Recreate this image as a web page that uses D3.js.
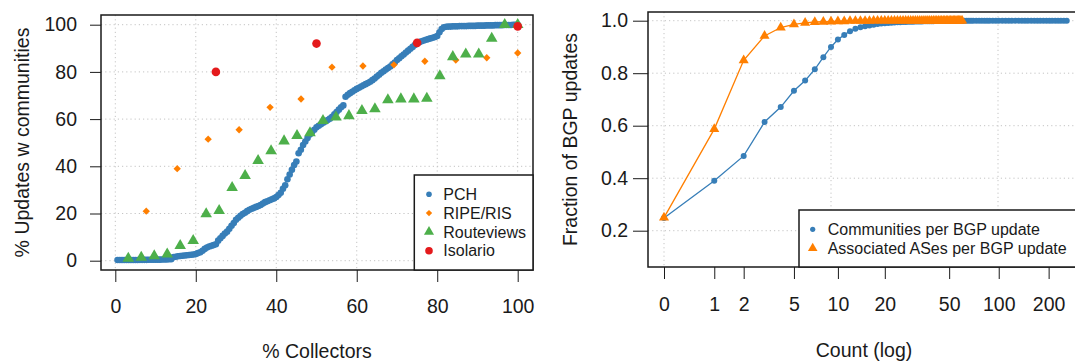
<!DOCTYPE html>
<html>
<head>
<meta charset="utf-8">
<script src="https://cdn.jsdelivr.net/npm/d3@7"></script>
<style>
  body { margin: 0; background: #fff; }
  svg { display: block; }
  text { font-family: "Liberation Sans", Arial, Helvetica, sans-serif; }
</style>
</head>
<body>
<svg id="chart" width="1075" height="361"></svg>
<script>
// ---- left panel: % updates with communities per collector (sorted) ----
const pctTicks = [0, 20, 40, 60, 80, 100];
const pchValues = [
  0.3, 0.3, 0.3, 0.3, 0.3, 0.3, 0.3, 0.3, 0.3, 0.3, 0.35, 0.35, 0.35, 0.35, 0.4, 0.4, 0.4, 0.4, 0.45, 0.45, 0.5, 0.5, 0.5, 0.6, 0.6,
  1.5, 1.7, 1.9, 2.0, 2.1, 2.2, 2.3, 2.4, 2.5, 2.6, 2.8,
  3.2, 3.6, 4.2, 5.0, 5.6, 6.0, 6.3, 6.6, 7.0,
  8.5, 9.5, 10.5, 11.5, 12.3, 13.5, 14.8, 16.0, 17.3,
  18.2, 19.0, 19.8, 20.3, 21.0, 21.6, 22.0, 22.4, 22.8,
  23.2, 23.6, 24.2, 24.8, 25.2, 25.6, 26.0, 26.4,
  27.0, 27.8, 28.8, 30.5, 32.0, 34.5, 36.5, 38.5, 40.5, 42.0,
  45.5, 47.0, 49.0, 50.5, 52.0, 53.5, 54.5, 55.5, 56.5,
  57.2, 57.8, 58.5, 59.0, 59.6, 60.2, 61.0, 62.0, 63.0, 64.0, 65.0, 65.8,
  69.5, 70.3, 71.0, 71.6, 72.2, 72.8, 73.3, 73.8, 74.3, 74.8,
  75.3, 75.8, 76.5, 77.2, 78.0, 78.8, 79.6, 80.3, 81.0, 81.6,
  82.3, 83.2, 84.0, 85.0, 85.8, 86.6, 87.4, 88.2, 89.0, 89.8,
  90.6, 91.4, 92.2, 92.6, 93.0, 93.3, 93.6, 93.9, 94.2, 94.5, 94.8, 95.2,
  96.8, 98.2, 98.9, 99.1,
  99.2, 99.2, 99.3, 99.3, 99.3, 99.4, 99.4, 99.4, 99.4, 99.5, 99.5, 99.5, 99.5, 99.6, 99.6, 99.6,
  99.6, 99.7, 99.7, 99.7, 99.7, 99.8, 99.8, 99.8, 99.8, 99.9, 99.9, 99.9, 99.9, 100, 100, 100
];
const ripeValues = [21, 39, 51.5, 55.5, 65, 68.5, 82, 82.5, 83, 84.5, 85, 86, 88];
const routeviewsValues = [
  1.0, 1.4, 2.0, 2.8, 6.4, 8.5, 19.8, 21.2, 30.9, 36.0, 42.4, 46.5, 50.7, 53.0, 54.1, 59.3,
  60.8, 61.4, 63.6, 64.3, 68.1, 68.5, 68.5, 68.8, 78.3, 86.4, 87.5, 87.5, 94.2, 100, 100
];
const isolarioValues = [80, 92, 92.3, 99.3];
const leftSeries = ['PCH', 'RIPE/RIS', 'Routeviews', 'Isolario'];

// ---- right panel: CDF of counts per BGP update ----
const countTicks = [0, 1, 2, 5, 10, 20, 50, 100, 200];
const fracTicks = [0.2, 0.4, 0.6, 0.8, 1.0];
const commCounts = [
  0, 1, 2, 3, 4, 5, 6, 7, 8, 9, 10, 11, 12, 13, 14, 15, 16, 17, 18, 19, 20,
  21, 22, 23, 24, 25, 26, 27, 28, 29, 30, 31, 32, 33, 34, 35, 36, 37, 38, 39, 40,
  41, 42, 43, 44, 45, 46, 47, 48, 49, 50, 52, 54, 56, 58, 60, 62, 64, 66, 68, 70,
  73, 76, 79, 82, 85, 88, 92, 96, 100, 105, 110, 115, 120, 126, 132, 138, 144,
  150, 157, 164, 171, 178, 186, 194, 202, 210, 219, 228, 237, 247, 257
];
const commFrac = [
  0.248, 0.390, 0.485, 0.614, 0.671, 0.733, 0.772, 0.815, 0.861, 0.900, 0.928,
  0.946, 0.960, 0.969, 0.975, 0.979, 0.982, 0.985, 0.987, 0.989, 0.990,
  0.991, 0.992, 0.993, 0.994, 0.994, 0.995, 0.995, 0.996, 0.996, 0.996,
  0.997, 0.997, 0.997, 0.997, 0.998, 0.998, 0.998, 0.998, 0.998, 0.998,
  0.999, 0.999, 0.999, 0.999, 0.999, 0.999, 0.999, 0.999, 0.999, 0.999,
  0.999, 0.999, 0.999, 0.999, 0.999, 1, 1, 1, 1, 1,
  1, 1, 1, 1, 1, 1, 1, 1, 1, 1, 1, 1, 1, 1, 1, 1, 1,
  1, 1, 1, 1, 1, 1, 1, 1, 1, 1, 1, 1, 1, 1
];
const asCounts = [
  0, 1, 2, 3, 4, 5, 6, 7, 8, 9, 10, 11, 12, 13, 14, 15, 16, 17, 18, 19, 20,
  21, 22, 23, 24, 25, 26, 27, 28, 29, 30, 31, 32, 33, 34, 35, 36, 37, 38, 39, 40,
  41, 42, 43, 44, 45, 46, 47, 48, 49, 50, 51, 52, 53, 54, 55, 56, 57, 58, 59, 60
];
const asFrac = [
  0.250, 0.587, 0.849, 0.942, 0.974, 0.986, 0.992, 0.995, 0.996, 0.997, 0.998,
  0.998, 0.999, 0.999, 0.999, 0.999, 0.999, 1, 1, 1, 1,
  1, 1, 1, 1, 1, 1, 1, 1, 1, 1, 1, 1, 1, 1, 1, 1, 1, 1, 1, 1,
  1, 1, 1, 1, 1, 1, 1, 1, 1, 1, 1, 1, 1, 1, 1, 1, 1, 1, 1, 1
];
const rightSeries = ['Communities per BGP update', 'Associated ASes per BGP update'];

const BLUE = '#377eb8', ORANGE = '#ff7f00', GREEN = '#4daf4a', RED = '#e41a1c';
const INK = '#1a1a1a', GRID = '#c4c4c4';

const svg = d3.select('#chart');

function styleAxis(g) {
  g.select('.domain').remove();
  g.selectAll('.tick line').attr('stroke', INK).attr('stroke-width', 1);
  g.selectAll('.tick text').attr('fill', INK).attr('font-size', 19.5)
    .attr('font-family', '"Liberation Sans", Arial, sans-serif');
}

function frame(box) {
  svg.append('rect')
    .attr('x', box.x0).attr('y', box.y0)
    .attr('width', box.x1 - box.x0).attr('height', box.y1 - box.y0)
    .attr('fill', 'none').attr('stroke', INK).attr('stroke-width', 1.5);
}

function grid(box, xs, ys, x, y) {
  const g = svg.append('g').attr('stroke', GRID).attr('stroke-width', 1)
    .attr('stroke-dasharray', '1.2,3');
  g.selectAll('.vx').data(xs).join('line')
    .attr('x1', d => x(d)).attr('x2', d => x(d))
    .attr('y1', box.y0).attr('y2', box.y1);
  g.selectAll('.hy').data(ys).join('line')
    .attr('x1', box.x0).attr('x2', box.x1)
    .attr('y1', d => y(d)).attr('y2', d => y(d));
}

const diamond = d3.symbol(d3.symbolSquare, 27);
const triLeft = d3.symbol(d3.symbolTriangle, 58);
const triRight = d3.symbol(d3.symbolTriangle, 44);

// ================= left panel =================
const boxL = { x0: 101, x1: 533, y0: 15, y1: 270 };
const xL = d3.scaleLinear().domain([0, 100]).range([115.3, 517.7]);
const yL = d3.scaleLinear().domain([0, 100]).range([260.7, 24.7]);
const rankPct = (arr) => arr.map((v, i) => [(i + 1) / arr.length * 100, v]);

grid(boxL, pctTicks, pctTicks, xL, yL);

svg.append('g').selectAll('circle').data(rankPct(pchValues)).join('circle')
  .attr('cx', d => xL(d[0])).attr('cy', d => yL(d[1])).attr('r', 3.3)
  .attr('fill', BLUE);

svg.append('g').selectAll('path').data(rankPct(ripeValues)).join('path')
  .attr('d', diamond)
  .attr('transform', d => `translate(${xL(d[0])},${yL(d[1])}) rotate(45)`)
  .attr('fill', ORANGE);

svg.append('g').selectAll('path').data(rankPct(routeviewsValues)).join('path')
  .attr('d', triLeft)
  .attr('transform', d => `translate(${xL(d[0])},${yL(d[1])})`)
  .attr('fill', GREEN);

svg.append('g').selectAll('circle').data(rankPct(isolarioValues)).join('circle')
  .attr('cx', d => xL(d[0])).attr('cy', d => yL(d[1])).attr('r', 4.3)
  .attr('fill', RED);

svg.append('g').attr('transform', `translate(0,${boxL.y1})`)
  .call(d3.axisBottom(xL).tickValues(pctTicks).tickSize(12).tickPadding(17.5))
  .call(styleAxis);
svg.append('g').attr('transform', `translate(${boxL.x0},0)`)
  .call(d3.axisLeft(yL).tickValues(pctTicks).tickSize(11).tickPadding(13))
  .call(styleAxis);

frame(boxL);

// legend (left)
const legL = svg.append('g');
legL.append('rect').attr('x', 414.3).attr('y', 175)
  .attr('width', boxL.x1 - 414.3).attr('height', boxL.y1 - 175)
  .attr('fill', '#fff').attr('stroke', INK).attr('stroke-width', 1.5);
leftSeries.forEach((name, i) => {
  const cy = 194.3 + i * 18.8;
  const row = legL.append('g').attr('transform', `translate(429,${cy})`);
  if (i === 0) row.append('circle').attr('r', 2.8).attr('fill', BLUE);
  if (i === 1) row.append('path').attr('d', d3.symbol(d3.symbolSquare, 20)).attr('transform', 'rotate(45)').attr('fill', ORANGE);
  if (i === 2) row.append('path').attr('d', d3.symbol(d3.symbolTriangle, 44)).attr('fill', GREEN);
  if (i === 3) row.append('circle').attr('r', 3.8).attr('fill', RED);
  row.append('text').attr('x', 14.3).attr('dy', '0.35em')
    .attr('font-size', 16).attr('fill', INK).text(name);
});

svg.append('text').attr('x', (boxL.x0 + boxL.x1) / 2).attr('y', 358)
  .attr('text-anchor', 'middle').attr('font-size', 19.5).attr('fill', INK)
  .text('% Collectors');
svg.append('text')
  .attr('transform', `translate(29,${(boxL.y0 + boxL.y1) / 2}) rotate(-90)`)
  .attr('text-anchor', 'middle').attr('font-size', 19.5).attr('fill', INK)
  .text('% Updates w communities');

// ================= right panel =================
const boxR = { x0: 648, x1: 1083, y0: 12, y1: 267 };
const xR = d3.scaleSymlog().constant(1).domain([0, 99]).range([664, 998]);
const yR = d3.scaleLinear().domain([0.2, 1]).range([230.7, 20.7]);

grid(boxR, [0, 9, 99], fracTicks, xR, yR);

const commPts = commCounts.map((c, i) => [c, commFrac[i]]);
const asPts = asCounts.map((c, i) => [c, asFrac[i]]);
const line = d3.line().x(d => xR(d[0])).y(d => yR(d[1]));

svg.append('path').datum(commPts).attr('d', line)
  .attr('fill', 'none').attr('stroke', BLUE).attr('stroke-width', 1.3);
svg.append('g').selectAll('circle').data(commPts).join('circle')
  .attr('cx', d => xR(d[0])).attr('cy', d => yR(d[1])).attr('r', 3)
  .attr('fill', BLUE);

svg.append('path').datum(asPts).attr('d', line)
  .attr('fill', 'none').attr('stroke', ORANGE).attr('stroke-width', 1.3);
svg.append('g').selectAll('path').data(asPts).join('path')
  .attr('d', triRight)
  .attr('transform', d => `translate(${xR(d[0])},${yR(d[1])})`)
  .attr('fill', ORANGE);

svg.append('g').attr('transform', `translate(0,${boxR.y1})`)
  .call(d3.axisBottom(xR).tickValues(countTicks).tickFormat(d3.format('d'))
    .tickSize(12).tickPadding(18))
  .call(styleAxis);
svg.append('g').attr('transform', `translate(${boxR.x0},0)`)
  .call(d3.axisLeft(yR).tickValues(fracTicks).tickFormat(d3.format('.1f'))
    .tickSize(15).tickPadding(5))
  .call(styleAxis);

frame(boxR);

// legend (right)
const legR = svg.append('g');
legR.append('rect').attr('x', 799).attr('y', 210)
  .attr('width', boxR.x1 - 799).attr('height', boxR.y1 - 210)
  .attr('fill', '#fff').attr('stroke', INK).attr('stroke-width', 1.5);
rightSeries.forEach((name, i) => {
  const cy = 229.3 + i * 19;
  const row = legR.append('g').attr('transform', `translate(812.7,${cy})`);
  if (i === 0) row.append('circle').attr('r', 2.6).attr('fill', BLUE);
  else row.append('path').attr('d', d3.symbol(d3.symbolTriangle, 40)).attr('fill', ORANGE);
  row.append('text').attr('x', 15).attr('dy', '0.35em')
    .attr('font-size', 16).attr('fill', INK).text(name);
});

svg.append('text').attr('x', 864).attr('y', 357)
  .attr('text-anchor', 'middle').attr('font-size', 19.5).attr('fill', INK)
  .text('Count (log)');
svg.append('text')
  .attr('transform', `translate(577,${(boxR.y0 + boxR.y1) / 2}) rotate(-90)`)
  .attr('text-anchor', 'middle').attr('font-size', 19.5).attr('fill', INK)
  .text('Fraction of BGP updates');
</script>
</body>
</html>
